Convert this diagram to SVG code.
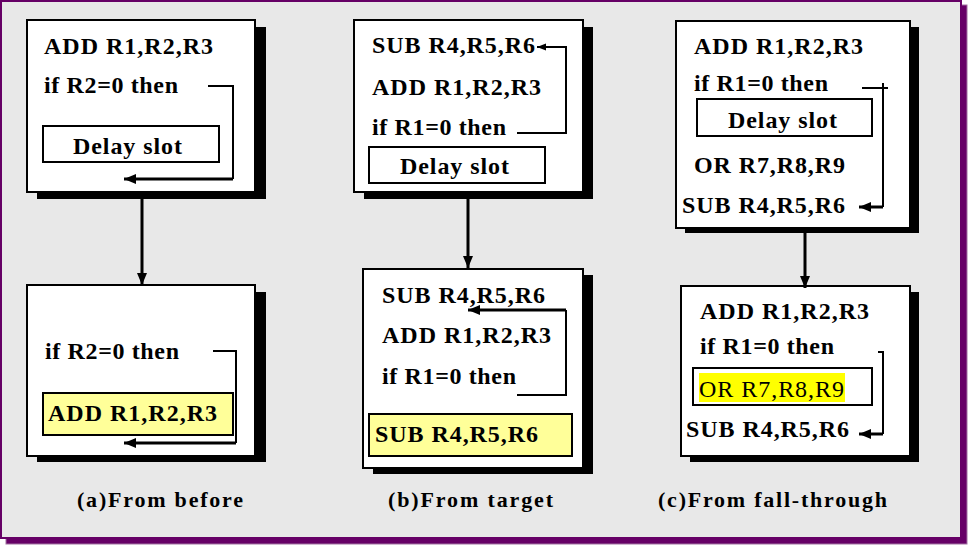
<svg xmlns="http://www.w3.org/2000/svg" width="968" height="546" viewBox="0 0 968 546">
<style>
.bg{fill:#e8e8e8;stroke:#660066;stroke-width:2}
.sh{fill:#000}
.box{fill:#fff;stroke:#000;stroke-width:2}
.slot{fill:#fff;stroke:#000;stroke-width:2}
.ybox{fill:#ffff99;stroke:#000;stroke-width:2}
.t{font-family:"Liberation Serif","Times New Roman",serif;font-weight:bold;font-size:24px;fill:#000}
.r{font-family:"Liberation Serif","Times New Roman",serif;font-weight:normal;font-size:24px;fill:#000}
.lbl{font-family:"Liberation Serif","Times New Roman",serif;font-weight:bold;font-size:22px;fill:#000}
.c{fill:none;stroke:#000;stroke-width:2}
.c3{fill:none;stroke:#000;stroke-width:3}
</style>
<defs>
<marker id="ah" markerUnits="userSpaceOnUse" markerWidth="13" markerHeight="11" refX="12" refY="5" orient="auto">
<path d="M0,0 L12,5 L0,10 z" fill="#000"/>
</marker>
<marker id="ahs" markerUnits="userSpaceOnUse" markerWidth="10" markerHeight="8" refX="9" refY="3.5" orient="auto">
<path d="M0,0 L9,3.5 L0,7 z" fill="#000"/>
</marker>
</defs>
<rect x="6" y="5" width="961" height="539" fill="#660066" stroke="#a070a0" stroke-width="1"/>
<rect class="bg" x="1" y="1" width="960" height="537"/>

<g id="a-top">
<rect class="sh" x="37" y="27" width="229" height="172"/>
<rect class="box" x="27" y="20" width="228" height="172"/>
<text class="t" x="44" y="54" textLength="169" lengthAdjust="spacing">ADD R1,R2,R3</text>
<text class="t" x="44" y="93" textLength="134" lengthAdjust="spacing">if R2=0 then</text>
<rect class="slot" x="43" y="126" width="176" height="36"/>
<text class="t" x="73" y="154" textLength="109" lengthAdjust="spacing">Delay slot</text>
</g>
<g id="a-bottom">
<rect class="sh" x="37" y="292" width="229" height="170"/>
<rect class="box" x="27" y="285" width="228" height="171"/>
<text class="t" x="45" y="359" textLength="134" lengthAdjust="spacing">if R2=0 then</text>
<rect class="ybox" x="43" y="393" width="190" height="42"/>
<text class="t" x="48" y="421" textLength="169" lengthAdjust="spacing">ADD R1,R2,R3</text>
</g>
<g id="a-label"><text class="lbl" x="77" y="507" textLength="166" lengthAdjust="spacing">(a)From before</text></g>

<g id="b-top">
<rect class="sh" x="364" y="27" width="229" height="172"/>
<rect class="box" x="354" y="20" width="229" height="172"/>
<text class="t" x="372" y="53" textLength="163" lengthAdjust="spacing">SUB R4,R5,R6</text>
<text class="t" x="372" y="95" textLength="169" lengthAdjust="spacing">ADD R1,R2,R3</text>
<text class="t" x="372" y="135" textLength="134" lengthAdjust="spacing">if R1=0 then</text>
<rect class="slot" x="369" y="147" width="176" height="36"/>
<text class="t" x="400" y="174" textLength="109" lengthAdjust="spacing">Delay slot</text>
</g>
<g id="b-bottom">
<rect class="sh" x="373" y="275" width="220" height="199"/>
<rect class="box" x="363" y="269" width="220" height="199"/>
<text class="t" x="382" y="303" textLength="163" lengthAdjust="spacing">SUB R4,R5,R6</text>
<text class="t" x="382" y="343" textLength="169" lengthAdjust="spacing">ADD R1,R2,R3</text>
<text class="t" x="382" y="384" textLength="134" lengthAdjust="spacing">if R1=0 then</text>
<rect class="ybox" x="369" y="414" width="203" height="42"/>
<text class="t" x="375" y="442" textLength="163" lengthAdjust="spacing">SUB R4,R5,R6</text>
</g>
<g id="b-label"><text class="lbl" x="388" y="507" textLength="165" lengthAdjust="spacing">(b)From target</text></g>

<g id="c-top">
<rect class="sh" x="685" y="27" width="234" height="206"/>
<rect class="box" x="676" y="21" width="234" height="207"/>
<text class="t" x="694" y="54" textLength="169" lengthAdjust="spacing">ADD R1,R2,R3</text>
<text class="t" x="694" y="91" textLength="134" lengthAdjust="spacing">if R1=0 then</text>
<rect class="slot" x="697" y="99" width="175" height="37"/>
<text class="t" x="728" y="128" textLength="109" lengthAdjust="spacing">Delay slot</text>
<text class="t" x="694" y="173" textLength="151" lengthAdjust="spacing">OR R7,R8,R9</text>
<text class="t" x="682" y="213" textLength="163" lengthAdjust="spacing">SUB R4,R5,R6</text>
</g>
<g id="c-bottom">
<rect class="sh" x="690" y="292" width="229" height="170"/>
<rect class="box" x="681" y="286" width="229" height="170"/>
<text class="t" x="700" y="319" textLength="169" lengthAdjust="spacing">ADD R1,R2,R3</text>
<text class="t" x="700" y="354" textLength="134" lengthAdjust="spacing">if R1=0 then</text>
<rect class="slot" x="693" y="368" width="179" height="37"/>
<rect x="699" y="373" width="146" height="29" fill="#ffff00"/>
<text class="r" x="699" y="397" textLength="145" lengthAdjust="spacing">OR R7,R8,R9</text>
<text class="t" x="686" y="437" textLength="163" lengthAdjust="spacing">SUB R4,R5,R6</text>
</g>
<g id="c-label"><text class="lbl" x="658" y="507" textLength="229" lengthAdjust="spacing">(c)From fall-through</text></g>

<g id="connectors">
<path class="c" d="M208,86 H233 V179"/>
<path class="c3" d="M233,179 H124" marker-end="url(#ah)"/>
<path class="c" d="M213,351 H236 V443"/>
<path class="c3" d="M236,443 H124" marker-end="url(#ah)"/>
<path class="c" d="M517,133 H566 V47 H537" marker-end="url(#ahs)"/>
<path class="c" d="M517,395 H566 V310"/>
<path class="c3" d="M566,310 H468" marker-end="url(#ah)"/>
<path class="c" d="M862,88 H888 M883,83 V207"/>
<path class="c3" d="M883,207 H859" marker-end="url(#ah)"/>
<path class="c" d="M878,352 H883 V434"/>
<path class="c3" d="M883,434 H859" marker-end="url(#ah)"/>
<path class="c3" d="M142,192 V285" marker-end="url(#ah)"/>
<path class="c3" d="M468,192 V268" marker-end="url(#ah)"/>
<path class="c3" d="M805,228 V288" marker-end="url(#ah)"/>
</g>
</svg>
